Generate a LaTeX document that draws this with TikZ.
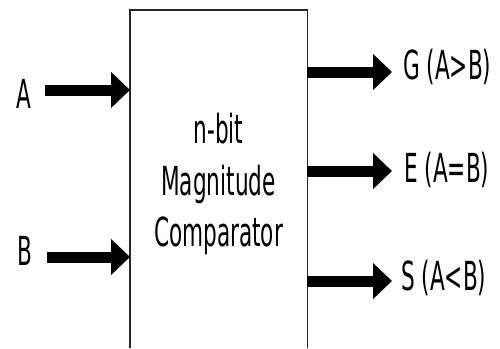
\documentclass[tikz,border=0pt]{standalone}
\usepackage{fontspec}
\setmainfont{DejaVu Sans}[FakeStretch=0.54]
\usetikzlibrary{arrows.meta}
\begin{document}
\begin{tikzpicture}[x=1pt,y=-1pt,
  lbl/.style={inner sep=0pt, anchor=base, font=\fontsize{40}{48}\selectfont},
  bus/.style={line width=11pt, -{Triangle[length=19pt,width=35pt]}},
  frame/.style={draw=black!85, line width=1.2pt}]
\useasboundingbox (0,0) rectangle (500,348);

% comparator block (open at the bottom)
\node[minimum width=177pt, minimum height=338pt, inner sep=0pt, anchor=north west] (box) at (130,10) {};
\draw[frame] (box.south west) -- (box.north west) -- (box.north east) -- (box.south east);

% block title
\node[lbl] (t1) at (218.5,143) {n-bit};
\node[lbl] (t2) at (218.5,195) {Magnitude};
\node[lbl] (t3) at (218.5,246) {Comparator};

% inputs
\node[lbl] (A) at (24,108) {A};
\node[lbl] (B) at (25,265) {B};
\coordinate (ain) at (45,90);
\coordinate (bin) at (47,257);
\draw[bus] (ain) -- (ain -| box.west);
\draw[bus] (bin) -- (bin -| box.west);

% outputs
\coordinate (gout) at (392,72);
\coordinate (eout) at (392,171);
\coordinate (sout) at (392,281);
\draw[bus] (gout -| box.east) -- (gout);
\draw[bus] (eout -| box.east) -- (eout);
\draw[bus] (sout -| box.east) -- (sout);
\node[lbl, anchor=base west] (G) at (403,79) {G (A>B)};
\node[lbl, anchor=base west] (E) at (404,182) {E (A=B)};
\node[lbl, anchor=base west] (S) at (401,290) {S (A<B)};
\end{tikzpicture}
\end{document}
